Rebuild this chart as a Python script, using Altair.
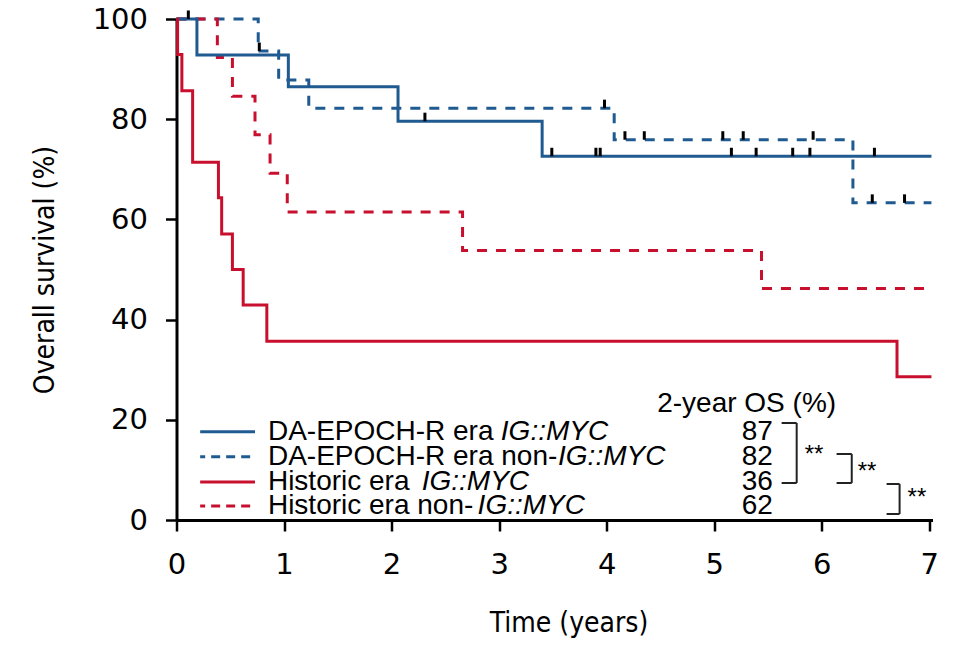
import altair as alt
import pandas as pd

BLUE = "#1f5a91"
RED = "#c8102e"

groups = [
    "DA-EPOCH-R era IG::MYC",
    "DA-EPOCH-R era non-IG::MYC",
    "Historic era IG::MYC",
    "Historic era non-IG::MYC",
]
group_colors = [BLUE, BLUE, RED, RED]

# Kaplan-Meier step curves (time in years, survival %)
da_myc_t = [0, 0.19, 1.04, 2.06, 3.40, 7.02]
da_myc_s = [100, 92.8, 86.5, 79.6, 72.6, 72.6]

da_non_t = [0, 0.76, 0.95, 1.23, 4.07, 6.29, 7.02]
da_non_s = [100, 93.6, 87.8, 82.2, 75.9, 63.3, 63.3]

hist_myc_t = [0, 0.01, 0.05, 0.15, 0.39, 0.42, 0.52, 0.62, 0.84, 6.70, 7.02]
hist_myc_s = [100, 92.9, 85.7, 71.4, 64.3, 57.1, 50.0, 42.9, 35.7, 28.6, 28.6]

hist_non_t = [0, 0.38, 0.52, 0.73, 0.87, 1.03, 2.66, 5.44, 7.02]
hist_non_s = [100, 92.3, 84.6, 76.9, 69.2, 61.5, 53.8, 46.2, 46.2]

# censoring marks (time, survival %)
cens_t = [0.11, 2.31, 3.49, 3.90, 3.94, 5.16, 5.39, 5.73, 5.89, 6.49,
          0.77, 3.98, 4.17, 4.35, 5.08, 5.27, 5.92, 6.47, 6.77]
cens_s = [100, 79.6, 72.6, 72.6, 72.6, 72.6, 72.6, 72.6, 72.6, 72.6,
          93.6, 82.2, 75.9, 75.9, 75.9, 75.9, 75.9, 63.3, 63.3]

two_year_os = ["87", "82", "36", "62"]

x_ticks = [0, 1, 2, 3, 4, 5, 6, 7]
y_ticks = [0, 20, 40, 60, 80, 100]

TITLE_FONT = "DejaVu Sans Condensed, Liberation Sans Narrow, Arial Narrow, Liberation Sans"
TICK_FONT = "DejaVu Sans"

# ---------- build tables ----------
curves = []
for g, ts, ss in zip(groups, [da_myc_t, da_non_t, hist_myc_t, hist_non_t],
                     [da_myc_s, da_non_s, hist_myc_s, hist_non_s]):
    for t, s in zip(ts, ss):
        curves.append({"group": g, "t": t, "s": s})
curves = pd.DataFrame(curves)
solid_df = curves[curves.group.isin([groups[0], groups[2]])]
dash_df = curves[curves.group.isin([groups[1], groups[3]])]

cens_df = pd.DataFrame({"t": cens_t, "s": cens_s})

xs = alt.Scale(domain=[0, 7.03], nice=False, zero=False)
ys = alt.Scale(domain=[0, 100], nice=False)
col = alt.Scale(domain=groups, range=group_colors)

x_axis = alt.Axis(values=x_ticks, format="d", title="Time (years)", grid=False,
                  domainColor="black", domainWidth=3, tickColor="black",
                  tickWidth=2.5, tickSize=11, labelFont=TICK_FONT, labelFlush=False,
                  labelFontSize=29, labelColor="black", labelPadding=19,
                  titleFont=TITLE_FONT, titleFontSize=28, titleX=392,
                  titleFontWeight="normal", titleColor="black", titlePadding=30)
y_axis = alt.Axis(values=y_ticks, format="d", title="Overall survival (%)", grid=False,
                  domainColor="black", domainWidth=3, tickColor="black",
                  tickWidth=2.5, tickSize=11, labelFont=TICK_FONT, labelFlush=False,
                  labelFontSize=29, labelColor="black", labelPadding=18,
                  titleFont=TITLE_FONT, titleFontSize=28,
                  titleFontWeight="normal", titleColor="black", titlePadding=33)

base_x = alt.X("t:Q", scale=xs, axis=x_axis)
base_y = alt.Y("s:Q", scale=ys, axis=y_axis)

dashed_lines = alt.Chart(dash_df).mark_line(
    interpolate="step-after", strokeWidth=3, strokeDash=[10, 9]
).encode(x=base_x, y=base_y,
         color=alt.Color("group:N", scale=col, legend=None), detail="group:N")

solid_lines = alt.Chart(solid_df).mark_line(
    interpolate="step-after", strokeWidth=3
).encode(x="t:Q", y="s:Q",
         color=alt.Color("group:N", scale=col, legend=None), detail="group:N")

censor = alt.Chart(cens_df).transform_calculate(s2="datum.s + 1.7").mark_rule(
    color="black", strokeWidth=3
).encode(x="t:Q", y="s:Q", y2="s2:Q")

# ---------- legend (drawn manually) ----------
row_y = [17.6, 12.6, 7.6, 2.8]
leg_df = pd.DataFrame({
    "group": groups, "y": row_y,
    "x1": [0.22] * 4, "x2": [0.73] * 4,
    "plain": ["DA-EPOCH-R era", "DA-EPOCH-R era non-", "Historic era", "Historic era non-"],
    "ital_x": [3.016, 3.548, 2.28, 2.80],
    "ital": ["IG::MYC"] * 4,
    "os": two_year_os,
})
leg_solid = alt.Chart(leg_df[leg_df.group.isin([groups[0], groups[2]])]).mark_rule(
    strokeWidth=3).encode(x="x1:Q", x2="x2:Q", y="y:Q",
                          color=alt.Color("group:N", scale=col, legend=None))
leg_dash = alt.Chart(leg_df[leg_df.group.isin([groups[1], groups[3]])]).mark_rule(
    strokeWidth=3, strokeDash=[9, 6], strokeDashOffset=4).encode(
    x="x1:Q", x2="x2:Q", y="y:Q",
    color=alt.Color("group:N", scale=col, legend=None))

txt = dict(font="Liberation Sans", fontSize=28, color="black", baseline="middle")
leg_plain = alt.Chart(leg_df).mark_text(align="left", **txt).encode(
    x=alt.datum(0.85), y="y:Q", text="plain:N")
leg_ital = alt.Chart(leg_df).mark_text(align="left", fontStyle="italic", **txt).encode(
    x="ital_x:Q", y="y:Q", text="ital:N")
leg_os = alt.Chart(leg_df).mark_text(align="right", **txt).encode(
    x=alt.datum(5.545), y="y:Q", text="os:N")
header = alt.Chart(pd.DataFrame({"h": ["2-year OS (%)"]})).mark_text(
    align="left", **txt).encode(x=alt.datum(4.47), y=alt.datum(23.2), text="h:N")

# significance brackets
br = pd.DataFrame({
    "xl": [5.627, 6.138, 6.603],
    "xr": [5.767, 6.279, 6.724],
    "yt": [19.36, 13.17, 7.19],
    "yb": [7.39, 7.39, 1.2],
    "ys": [13.0, 9.6, 4.3],
    "xs": [5.842, 6.335, 6.798],
    "lab": ["**", "**", "**"],
})
br_top = alt.Chart(br).mark_rule(color="#222", strokeWidth=2).encode(
    x="xl:Q", x2="xr:Q", y="yt:Q")
br_bot = alt.Chart(br).mark_rule(color="#222", strokeWidth=2).encode(
    x="xl:Q", x2="xr:Q", y="yb:Q")
br_v = alt.Chart(br).mark_rule(color="#222", strokeWidth=2).encode(
    x="xr:Q", y="yt:Q", y2="yb:Q")
br_lab = alt.Chart(br).mark_text(align="left", font="Liberation Sans", fontSize=24,
                                 color="black", baseline="middle").encode(
    x="xs:Q", y="ys:Q", text="lab:N")

chart = alt.layer(
    dashed_lines, solid_lines, censor,
    leg_solid, leg_dash, leg_plain, leg_ital, leg_os, header,
    br_top, br_bot, br_v, br_lab,
).properties(
    width=756, height=501,
    autosize=alt.AutoSizeParams(type="none"),
    padding={"left": 168.5, "top": 11, "right": 20, "bottom": 120},
).configure_view(stroke=None)

chart.save("out.html", embed_options={"renderer": "svg", "actions": False})
